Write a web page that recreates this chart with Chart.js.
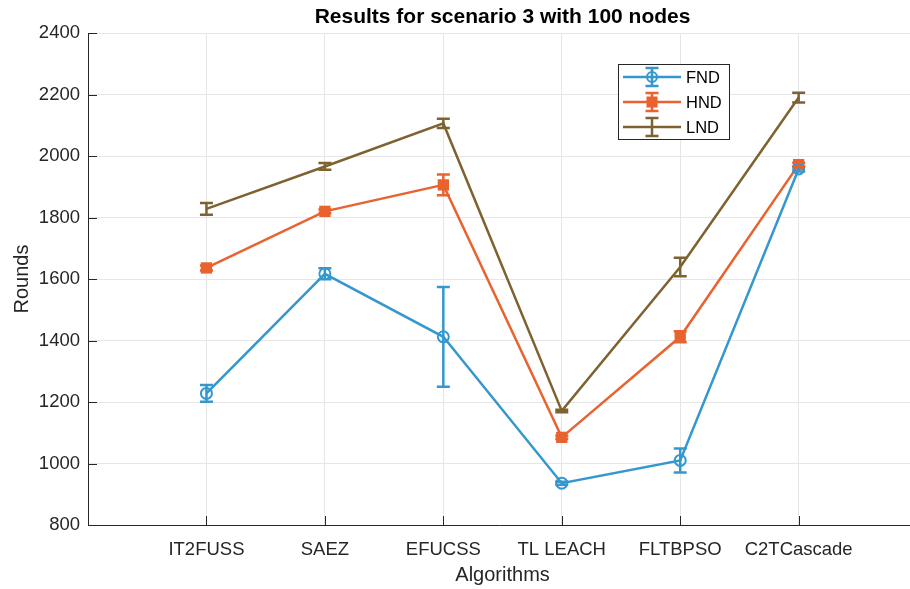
<!DOCTYPE html>
<html>
<head>
<meta charset="utf-8">
<title>Results for scenario 3 with 100 nodes</title>
<script src="https://cdn.jsdelivr.net/npm/chart.js@4.4.1/dist/chart.umd.min.js"></script>
<style>
  html, body { margin: 0; padding: 0; background: #ffffff; }
  #wrap { width: 910px; height: 589px; position: relative; }
</style>
</head>
<body>
<div id="wrap"><canvas id="chart" width="910" height="589"></canvas></div>
<script>
// Algorithms on the x axis
const categories = ['IT2FUSS', 'SAEZ', 'EFUCSS', 'TL LEACH', 'FLTBPSO', 'C2TCascade'];

// Round at which the first / half / last node died, with spread
const fnd    = [1228, 1617, 1412,  936, 1010, 1958];
const fndErr = [  27,   18,  162,    5,   39,    8];
const hnd    = [1636, 1820, 1906, 1085, 1412, 1972];
const hndErr = [   8,    6,   34,    5,   18,    6];
const lnd    = [1828, 1966, 2106, 1171, 1639, 2190];
const lndErr = [  19,   11,   15,    4,   30,   16];

// y axis ticks
const yTicks = [800, 1000, 1200, 1400, 1600, 1800, 2000, 2200, 2400];

const FONT = "'Liberation Sans', Arial, Helvetica, sans-serif";
const TEXT = '#262626';
const C_FND = '#3498cf';
const C_HND = '#e8632f';
const C_LND = '#7e6330';

const toPoints = arr => arr.map((v, i) => ({ x: i + 1, y: v }));

const errorBars = {
  id: 'errorBars',
  afterDatasetsDraw(chart) {
    const { ctx, scales: { x, y } } = chart;
    ctx.save();
    chart.data.datasets.forEach(ds => {
      const err = ds.errors;
      ctx.strokeStyle = ds.borderColor;
      ctx.lineWidth = 2.5;
      ds.data.forEach((p, i) => {
        const px = x.getPixelForValue(p.x);
        const top = y.getPixelForValue(p.y + err[i]);
        const bot = y.getPixelForValue(p.y - err[i]);
        ctx.beginPath();
        ctx.moveTo(px, top); ctx.lineTo(px, bot);
        ctx.moveTo(px - 6.5, top); ctx.lineTo(px + 6.5, top);
        ctx.moveTo(px - 6.5, bot); ctx.lineTo(px + 6.5, bot);
        ctx.stroke();
      });
    });
    ctx.restore();
  }
};

const decorations = {
  id: 'decorations',
  afterDraw(chart) {
    const { ctx, chartArea: a, scales: { x, y } } = chart;
    ctx.save();
    // inward tick marks
    ctx.strokeStyle = TEXT;
    ctx.lineWidth = 1;
    ctx.beginPath();
    yTicks.forEach(t => {
      const py = Math.round(y.getPixelForValue(t)) + 0.5;
      ctx.moveTo(a.left, py); ctx.lineTo(a.left + 9, py);
    });
    categories.forEach((c, i) => {
      const px = Math.round(x.getPixelForValue(i + 1)) + 0.5;
      ctx.moveTo(px, a.bottom); ctx.lineTo(px, a.bottom - 9);
    });
    ctx.stroke();

    // title
    const cx = x.getPixelForValue(3.5);
    ctx.fillStyle = '#000000';
    ctx.font = "bold 21px " + FONT;
    ctx.textAlign = 'center';
    ctx.textBaseline = 'middle';
    ctx.fillText('Results for scenario 3 with 100 nodes', cx, 17);

    // axis titles
    ctx.fillStyle = TEXT;
    ctx.font = "20px " + FONT;
    ctx.fillText('Algorithms', cx, 575);
    ctx.save();
    ctx.translate(22, (a.top + a.bottom) / 2);
    ctx.rotate(-Math.PI / 2);
    ctx.fillText('Rounds', 0, 0);
    ctx.restore();

    // legend
    const lx = 618.5, ly = 64.5, lw = 111, lh = 75;
    ctx.fillStyle = '#ffffff';
    ctx.fillRect(lx, ly, lw, lh);
    ctx.strokeStyle = '#262626';
    ctx.lineWidth = 1;
    ctx.strokeRect(lx, ly, lw, lh);
    ctx.font = "16.5px " + FONT;
    ctx.textAlign = 'left';
    chart.data.datasets.forEach((ds, k) => {
      const ry = 77 + k * 25;
      const mx = 652;
      ctx.strokeStyle = ds.borderColor;
      ctx.lineWidth = 2.5;
      ctx.beginPath();
      ctx.moveTo(623, ry); ctx.lineTo(681, ry);
      ctx.moveTo(mx, ry - 9); ctx.lineTo(mx, ry + 9);
      ctx.moveTo(mx - 6.5, ry - 9); ctx.lineTo(mx + 6.5, ry - 9);
      ctx.moveTo(mx - 6.5, ry + 9); ctx.lineTo(mx + 6.5, ry + 9);
      ctx.stroke();
      if (ds.pointStyle === 'circle') {
        ctx.lineWidth = 2;
        ctx.beginPath();
        ctx.arc(mx, ry, 5, 0, Math.PI * 2);
        ctx.stroke();
      } else if (ds.pointStyle === 'rect') {
        ctx.fillStyle = ds.borderColor;
        ctx.fillRect(mx - 5.5, ry - 5.5, 11, 11);
      }
      ctx.fillStyle = '#000000';
      ctx.textBaseline = 'middle';
      ctx.fillText(ds.label, 686, ry + 1);
    });
    ctx.restore();
  }
};

new Chart(document.getElementById('chart'), {
  type: 'line',
  data: {
    datasets: [
      { label: 'FND', data: toPoints(fnd), errors: fndErr, borderColor: C_FND,
        borderWidth: 2.5, pointStyle: 'circle', pointRadius: 5.5, pointBorderWidth: 2,
        pointBackgroundColor: 'rgba(0,0,0,0)', pointBorderColor: C_FND, tension: 0 },
      { label: 'HND', data: toPoints(hnd), errors: hndErr, borderColor: C_HND,
        borderWidth: 2.5, pointStyle: 'rect', pointRadius: 8, pointBorderWidth: 0,
        pointBackgroundColor: C_HND, pointBorderColor: C_HND, tension: 0 },
      { label: 'LND', data: toPoints(lnd), errors: lndErr, borderColor: C_LND,
        borderWidth: 2.5, pointStyle: false, pointRadius: 0, tension: 0 }
    ]
  },
  options: {
    responsive: false,
    animation: false,
    events: [],
    layout: { autoPadding: false, padding: { top: 33, left: 0, right: 0, bottom: 0 } },
    plugins: { legend: { display: false }, title: { display: false }, tooltip: { enabled: false } },
    scales: {
      x: {
        type: 'linear',
        min: 0,
        max: 6.94,
        afterFit(s) { s.height = 64; s.paddingRight = 0; s.paddingLeft = 0; },
        afterBuildTicks(s) { s.ticks = [0, 1, 2, 3, 4, 5, 6].map(v => ({ value: v })); },
        ticks: {
          includeBounds: false,
          padding: 14,
          color: TEXT,
          font: { family: FONT, size: 18.5 },
          maxRotation: 0,
          autoSkip: false,
          callback: v => (Number.isInteger(v) && v >= 1 && v <= categories.length) ? categories[v - 1] : ''
        },
        grid: { color: '#e6e6e6', lineWidth: 1, drawTicks: false },
        border: { color: TEXT, width: 1 }
      },
      y: {
        min: 800,
        max: 2400,
        afterFit(s) { s.width = 88; s.paddingTop = 0; s.paddingBottom = 0; },
        afterBuildTicks(s) { s.ticks = yTicks.map(v => ({ value: v })); },
        ticks: {
          padding: 8,
          color: TEXT,
          font: { family: FONT, size: 18.5 },
          callback: v => String(v)
        },
        grid: { color: '#e6e6e6', lineWidth: 1, drawTicks: false },
        border: { color: TEXT, width: 1 }
      }
    }
  },
  plugins: [errorBars, decorations]
});
</script>
</body>
</html>
